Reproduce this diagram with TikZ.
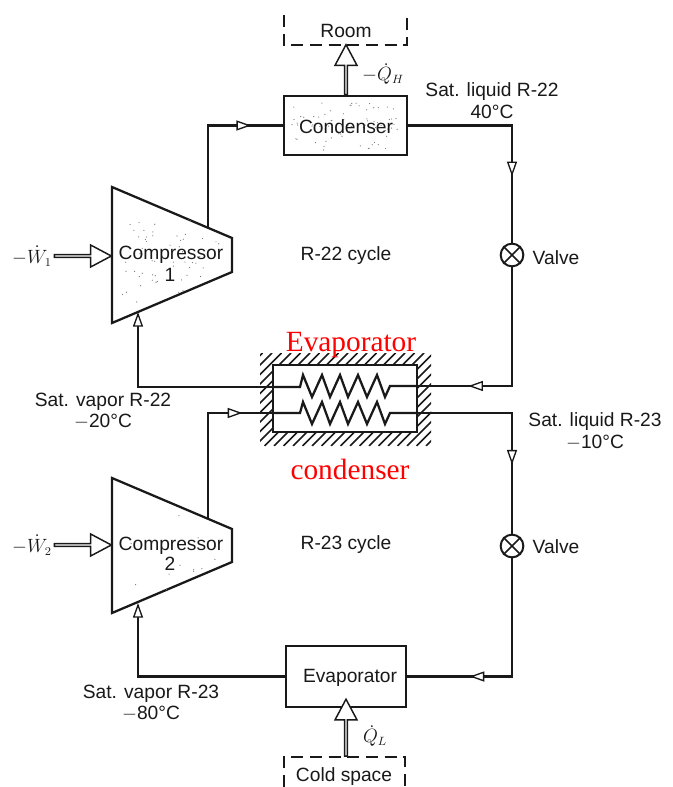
\documentclass[tikz,border=0pt]{standalone}
\usepackage{fontspec}
\setmainfont{Liberation Sans}
\newfontfamily\redfont{Liberation Serif}
\usetikzlibrary{arrows.meta,decorations.markings,shapes.arrows,calc}
\definecolor{ink}{gray}{0.1}
\tikzset{
  wire/.style={draw=ink,line width=1.7pt,line join=miter},
  lab/.style={text=ink,font=\fontsize{14.4}{16}\selectfont,inner sep=0pt,text height=10.3pt,text depth=0pt},
  mathlab/.style={text=ink,font=\fontsize{13.3}{15}\selectfont,inner sep=0pt},
  redlab/.style={text=red,font=\redfont\fontsize{22}{24}\selectfont,inner sep=0pt},
  boxnode/.style={draw=ink,line width=1.7pt,inner sep=0pt,fill=white},
  flowmark/.style={postaction={decorate,decoration={markings,mark=at position #1 with {\arrow[line width=1pt]{Triangle[open,fill=white,length=11pt,width=7.5pt]}}}}},
  endmark/.style={-{Triangle[open,fill=white,length=11pt,width=7.5pt,line width=1pt]}},
  fat/.style={single arrow,draw=ink,fill=white,line width=1.1pt,inner sep=0pt,minimum width=16.5pt,single arrow head extend=3.8pt,single arrow tip angle=56,anchor=center},
  dashbox/.style={draw=ink,line width=1.3pt,dash pattern=on 9pt off 5pt},
  valve/.style={circle,draw=ink,line width=1.5pt,fill=white,minimum size=17pt,inner sep=0pt},
  hatchline/.style={draw=ink,line width=1.3pt},
  speck/.style={fill=black!55,draw=none}
}
\newcommand{\specks}[6]{% seed, x0, y0, w, h, count
  \pgfmathsetseed{#1}
  \foreach \k in {1,...,#6}{
    \pgfmathsetmacro{\sx}{#2+rnd*#4}
    \pgfmathsetmacro{\sy}{#3+rnd*#5}
    \fill[speck] (\sx,\sy) circle (0.45pt);
  }
}
\begin{document}
\begin{tikzpicture}[x=0.75pt,y=-0.75pt]
\useasboundingbox (0,0) rectangle (672,787);
\fill[white] (0,0) rectangle (672,787);

% named points
\coordinate (c1a) at (112,187); \coordinate (c1b) at (232,238);
\coordinate (c1c) at (232,272); \coordinate (c1d) at (112,323);
\coordinate (c2a) at (112,478); \coordinate (c2b) at (232,529);
\coordinate (c2c) at (232,562); \coordinate (c2d) at (112,613);
\coordinate (c1out) at (208,228); \coordinate (c1in) at (138,312);
\coordinate (c2out) at (208,518); \coordinate (c2in) at (138,603);
\coordinate (hxUL) at (273,387); \coordinate (hxUR) at (417,386);
\coordinate (hxLL) at (273,413); \coordinate (hxLR) at (417,413);
\coordinate (r1) at (284,15); \coordinate (r2) at (284,45);
\coordinate (r3) at (407,45); \coordinate (r4) at (407,15);
\coordinate (s1) at (284,787); \coordinate (s2) at (284,757);
\coordinate (s3) at (405,757); \coordinate (s4) at (405,787);

% boxes
\node[boxnode,minimum width=92pt,minimum height=44.5pt] (cond) at (345.5,125.5) {};
\node[boxnode,minimum width=90pt,minimum height=46pt] (evap) at (346,676.5) {};
\node[valve] (v1) at (512,255) {};
\node[valve] (v2) at (512,546) {};
\draw[draw=ink,line width=1.2pt] (v1.45)--(v1.225) (v1.135)--(v1.315);
\draw[draw=ink,line width=1.2pt] (v2.45)--(v2.225) (v2.135)--(v2.315);

% connectors
\draw[wire,flowmark=0.82] (c1out) |- (cond.west);
\draw[wire,flowmark=0.70] (cond.east) -| (v1.north);
\draw[wire,flowmark=0.76] (v1.south) |- (hxUR);
\draw[wire,endmark] (hxUL) -| (c1in);
\draw[wire,flowmark=0.82] (c2out) |- (hxLL);
\draw[wire,flowmark=0.68] (hxLR) -| (v2.north);
\draw[wire,flowmark=0.72] (v2.south) |- (evap.east);
\draw[wire,endmark] (evap.west) -| (c2in);

% compressors
\draw[wire,fill=white] (c1a)--(c1b)--(c1c)--(c1d)--cycle;
\draw[wire,fill=white] (c2a)--(c2b)--(c2c)--(c2d)--cycle;
\begin{scope}
  \clip (c1a)--(c1b)--(c1c)--(c1d)--cycle;
  \specks{11}{122}{218}{100}{92}{60}
\end{scope}
\begin{scope}
  \clip (c2a)--(c2b)--(c2c)--(c2d)--cycle;
  \specks{23}{130}{515}{90}{75}{12}
\end{scope}
\specks{37}{292}{102}{108}{48}{70}

% heat exchanger
\begin{scope}[even odd rule]
  \clip (260,353) rectangle (431,446) (273,365) rectangle (417,432);
  \foreach \hx in {160,169.5,...,440}{
    \draw[hatchline] (\hx,446) -- ++(93,-93);
  }
\end{scope}
\node[boxnode,fill=none,minimum width=108pt,minimum height=50.25pt] (hx) at (345,398.5) {};
\draw[wire] (hxUL)--(300,387)--(303,375)--(312,397)--(322,375)--(330,397)--(340,375)--(348,397)--(358,375)--(367,397)--(377,375)--(385,397)--(390,386)--(hxUR);
\draw[wire] (hxLL)--(300,413)--(303,402)--(312,424)--(322,402)--(330,424)--(340,402)--(348,424)--(358,402)--(367,424)--(377,402)--(385,424)--(390,413)--(hxLR);

% dashed boundaries
\draw[dashbox] (r1)--(r2)--(r3)--(r4);
\draw[dashbox] (s1)--(s2)--(s3)--(s4);

% work and heat arrows
\node[fat,shape border rotate=90,minimum height=37.5pt] (qh) at (346,71) {};
\node[fat,shape border rotate=90,minimum height=42.75pt] (ql) at (346,729) {};
\node[fat,minimum height=42.75pt] (w1) at (81.5,256) {};
\node[fat,minimum height=42.75pt] (w2) at (81.5,545) {};

% texts
\node[lab] (troom) at (346,31) {Room};
\node[lab] (tcond) at (346,127) {Condenser};
\node[lab] (tevap) at (350,676) {Evaporator};
\node[lab] (tcold) at (344,775) {Cold space};
\node[lab] (tc1) at (171,253) {Compressor};
\node[lab] (tc1b) at (170,275) {1};
\node[lab] (tc2) at (171,544) {Compressor};
\node[lab] (tc2b) at (170,564) {2};
\node[lab] (t22) at (346,254) {R-22 cycle};
\node[lab] (t23) at (346,543) {R-23 cycle};
\node[lab] (tv1) at (556,258) {Valve};
\node[lab] (tv2) at (556,547) {Valve};
\node[lab] (ts1) at (492,90) {Sat. liquid R-22};
\node[lab] (ts2) at (492,112) {40°C};
\node[lab] (ts3) at (103,400) {Sat. vapor R-22};
\node[lab] (ts4) at (103,421) {$-$20°C};
\node[lab] (ts5) at (595,420) {Sat. liquid R-23};
\node[lab] (ts6) at (595,442) {$-$10°C};
\node[lab] (ts7) at (151,692) {Sat. vapor R-23};
\node[lab] (ts8) at (151,713) {$-$80°C};
\node[mathlab] (tqh) at (383,74) {$-\dot{Q}_H$};
\node[mathlab] (tql) at (375,736) {$\dot{Q}_L$};
\node[mathlab] (tw1) at (32,256) {$-\dot{W}_1$};
\node[mathlab] (tw2) at (32,545) {$-\dot{W}_2$};
\node[redlab] (tr1) at (351,345) {Evaporator};
\node[redlab] (tr2) at (350,469) {condenser};
\end{tikzpicture}
\end{document}
